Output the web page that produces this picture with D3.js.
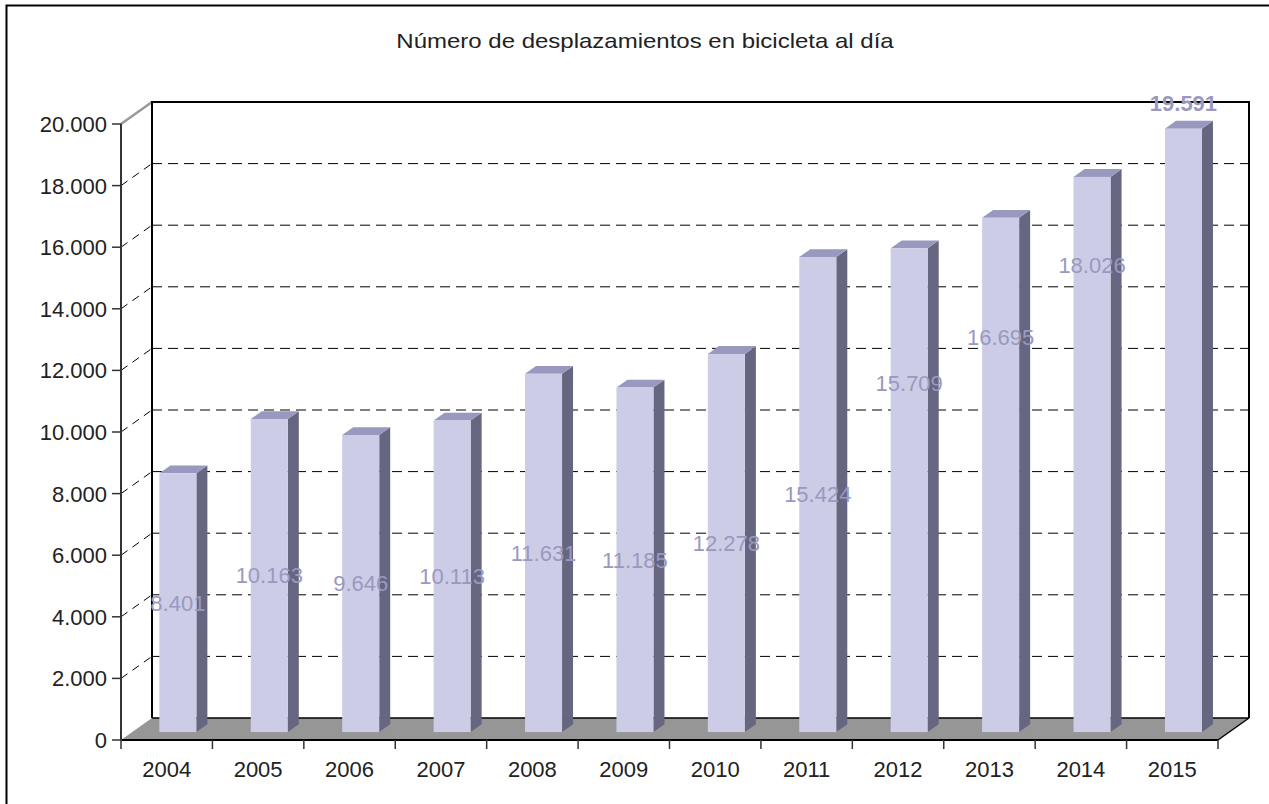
<!DOCTYPE html>
<html lang="es">
<head>
<meta charset="utf-8">
<title>Número de desplazamientos en bicicleta al día</title>
<script src="https://d3js.org/d3.v7.min.js"></script>
<style>
  body{margin:0;background:#fff;font-family:"Liberation Sans",Arial,sans-serif;}
</style>
</head>
<body>
<div id="chart"></div>
<script>
// data
var years = ["2004","2005","2006","2007","2008","2009","2010","2011","2012","2013","2014","2015"]
var trips = [8401,10163,9646,10113,11631,11185,12278,15424,15709,16695,18026,19591]
var valueLabels = ["8.401","10.163","9.646","10.113","11.631","11.185","12.278","15.424","15.709","16.695","18.026","19.591"]
// where each value label sits, in data units (most are at half the bar)
var labelAt = [4200,5082,4823,5057,5816,5593,6139,7712,11330,12830,15160,20420]
var yTicks = [0,2000,4000,6000,8000,10000,12000,14000,16000,18000,20000]
var yTickLabels = ["0","2.000","4.000","6.000","8.000","10.000","12.000","14.000","16.000","18.000","20.000"]

var w = 1269, h = 804
var DX = 31, DY = -22          // full depth of the 3d box
var f0 = 0.36, f1 = 0.715      // bar front / back depth fraction

var svg = d3.select("#chart").append("svg").attr("width", w).attr("height", h)

var x = d3.scaleBand().domain(years).range([121, 1218])
var y = d3.scaleLinear().domain([0, 20000]).range([740, 124])

function P(px, py, f){ return [px + f*DX, py + f*DY] }
function poly(pts){ return pts.map(function(p){ return p.join(",") }).join(" ") }

// outer frame
svg.append("rect").attr("x", 6.5).attr("y", 5.5).attr("width", 1300).attr("height", 900)
  .attr("fill", "none").attr("stroke", "#000").attr("stroke-width", 2)

// title (the original is stretched a bit horizontally)
svg.append("text").attr("transform", "translate(645,48) scale(1.2,1)").attr("text-anchor", "middle")
  .attr("font-size", 20).attr("fill", "#222").text("Número de desplazamientos en bicicleta al día")

var x0 = x.range()[0], x1 = x.range()[1]
var yb = y(0), yt = y(20000)

// floor
svg.append("polygon")
  .attr("points", poly([P(x0,yb,0), P(x1,yb,0), P(x1,yb,1), P(x0,yb,1)]))
  .attr("fill", "#969696")

// back wall gridlines
svg.selectAll(".grid").data(yTicks.filter(function(d){ return d > 0 && d < 20000 }))
  .enter().append("line")
  .attr("x1", x0 + DX).attr("x2", x1 + DX)
  .attr("y1", function(d){ return y(d) + DY }).attr("y2", function(d){ return y(d) + DY })
  .attr("stroke", "#000").attr("stroke-width", 1).attr("stroke-dasharray", "10,6")

// left wall diagonals
svg.selectAll(".diag").data(yTicks.filter(function(d){ return d > 0 && d < 20000 }))
  .enter().append("line")
  .attr("x1", x0).attr("y1", function(d){ return y(d) })
  .attr("x2", x0 + DX).attr("y2", function(d){ return y(d) + DY })
  .attr("stroke", "#000").attr("stroke-width", 1).attr("stroke-dasharray", "8,6")

// left wall top edge
svg.append("line").attr("x1", x0).attr("y1", yt).attr("x2", x0 + DX).attr("y2", yt + DY)
  .attr("stroke", "#999").attr("stroke-width", 2.5)

// back wall frame
svg.append("polyline")
  .attr("points", poly([[x0+DX, yb+DY], [x0+DX, yt+DY], [x1+DX, yt+DY], [x1+DX, yb+DY]]))
  .attr("fill", "none").attr("stroke", "#000").attr("stroke-width", 2)
svg.append("line").attr("x1", x0+DX).attr("y1", yb+DY).attr("x2", x1+DX).attr("y2", yb+DY)
  .attr("stroke", "#000").attr("stroke-width", 1.5)

// floor front and right edges
svg.append("line").attr("x1", x0).attr("y1", yb).attr("x2", x1).attr("y2", yb)
  .attr("stroke", "#000").attr("stroke-width", 2)
svg.append("line").attr("x1", x1).attr("y1", yb).attr("x2", x1 + DX).attr("y2", yb + DY)
  .attr("stroke", "#000").attr("stroke-width", 1.5)

// y axis
svg.append("line").attr("x1", x0).attr("y1", yt).attr("x2", x0).attr("y2", yb)
  .attr("stroke", "#333").attr("stroke-width", 2)
svg.selectAll(".ytick").data(yTicks).enter().append("line")
  .attr("x1", x0 - 9).attr("x2", x0)
  .attr("y1", function(d){ return y(d) }).attr("y2", function(d){ return y(d) })
  .attr("stroke", "#333").attr("stroke-width", 1.5)
svg.selectAll(".ylab").data(yTicks).enter().append("text")
  .attr("x", x0 - 14).attr("y", function(d){ return y(d) })
  .attr("dy", "0.36em").attr("text-anchor", "end")
  .attr("font-size", 22).attr("fill", "#222")
  .text(function(d, i){ return yTickLabels[i] })

// x axis ticks and labels
var bounds = years.map(function(d){ return x(d) }).concat([x1])
svg.selectAll(".xtick").data(bounds).enter().append("line")
  .attr("x1", function(d){ return d }).attr("x2", function(d){ return d })
  .attr("y1", yb).attr("y2", yb + 9)
  .attr("stroke", "#333").attr("stroke-width", 1.5)
svg.selectAll(".xlab").data(years).enter().append("text")
  .attr("x", function(d){ return x(d) + x.bandwidth()/2 }).attr("y", 777)
  .attr("text-anchor", "middle").attr("font-size", 22).attr("fill", "#222")
  .text(function(d){ return d })

// bars
var bw = x.bandwidth() * 0.405
var bars = svg.selectAll(".bar").data(years).enter().append("g")
bars.each(function(d, i){
  var g = d3.select(this)
  var cx = x(d) + x.bandwidth()/2
  var L = cx - bw/2, R = cx + bw/2
  var top = y(trips[i])
  g.append("polygon").attr("fill", "#666680")
    .attr("points", poly([P(R,yb,f0), P(R,top,f0), P(R,top,f1), P(R,yb,f1)]))
  g.append("polygon").attr("fill", "#9999bf")
    .attr("points", poly([P(L,top,f0), P(R,top,f0), P(R,top,f1), P(L,top,f1)]))
  var a = P(L, top, f0), b = P(R, yb, f0)
  g.append("rect").attr("fill", "#ccccE6")
    .attr("x", a[0]).attr("y", a[1]).attr("width", b[0]-a[0]).attr("height", b[1]-a[1])
})

// value labels
svg.selectAll(".vlab").data(years).enter().append("text")
  .attr("x", function(d){ return P(x(d) + x.bandwidth()/2, 0, f0)[0] })
  .attr("y", function(d, i){ return P(0, y(labelAt[i]), f0)[1] })
  .attr("dy", "0.36em").attr("text-anchor", "middle")
  .attr("font-size", 22).attr("fill", "#9999c0")
  .attr("font-weight", function(d, i){ return i == years.length - 1 ? "bold" : "normal" })
  .text(function(d, i){ return valueLabels[i] })
</script>
</body>
</html>
